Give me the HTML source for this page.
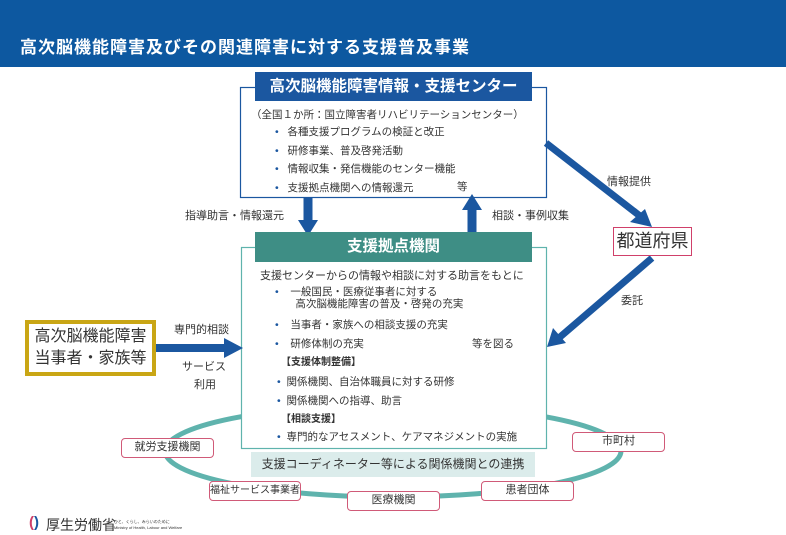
<!DOCTYPE html>
<html><head><meta charset="utf-8"><style>
body{margin:0;width:786px;height:535px;position:relative;background:#fff;overflow:hidden;font-family:"Liberation Sans","Noto Sans CJK JP",sans-serif;color:#333}
.a{position:absolute;white-space:nowrap}
.t{font-size:10.5px}
.pk{position:absolute;border:1.5px solid #d05a78;border-radius:4px;background:#fff;font-size:11px;text-align:center;box-sizing:border-box;white-space:nowrap;overflow:hidden}
</style></head><body>
<div class="a" style="left:0;top:0;width:786px;height:67px;background:#0d58a0"></div>
<div class="a" style="left:20px;top:33px;font-size:17px;font-weight:bold;color:#fff;letter-spacing:1px">高次脳機能障害及びその関連障害に対する支援普及事業</div>
<svg class="a" style="left:0;top:0" width="786" height="535">
<ellipse cx="393" cy="451" rx="228" ry="46" fill="none" stroke="#5fb3ad" stroke-width="5"/>
<rect x="240.5" y="87.5" width="306" height="110" fill="#fff" stroke="#1b57a0" stroke-width="1.2"/>
<rect x="241.5" y="247.5" width="305" height="201" fill="#fff" stroke="#5fb3ad" stroke-width="1.2"/>
<g fill="#1b57a0" stroke="#1b57a0">
<line x1="308" y1="197" x2="308" y2="222" stroke-width="9"/><polygon points="298,220 318,220 308,236" stroke="none"/>
<line x1="472" y1="234" x2="472" y2="208" stroke-width="9"/><polygon points="462,210 482,210 472,194" stroke="none"/>
<line x1="546" y1="143" x2="640" y2="216" stroke-width="7"/><polygon points="630,222 645,209 652,227" stroke="none"/>
<line x1="652" y1="258" x2="560" y2="337" stroke-width="7"/><polygon points="553,328 566,343 547,347" stroke="none"/>
<line x1="156" y1="348" x2="228" y2="348" stroke-width="8"/><polygon points="224,338 224,358 243,348" stroke="none"/>
</g>
</svg>
<div class="a" style="left:255px;top:72px;width:277px;height:29px;background:#1b57a0;color:#fff;font-weight:bold;font-size:15.5px;text-align:center;line-height:29px">高次脳機能障害情報・支援センター</div>
<div class="a t" style="left:251px;top:107px">（全国１か所：国立障害者リハビリテーションセンター）</div>
<div class="a t" style="left:275px;top:123px;line-height:18.7px"><span style="color:#1b57a0">•</span>&nbsp;&nbsp;&nbsp;各種支援プログラムの検証と改正<br><span style="color:#1b57a0">•</span>&nbsp;&nbsp;&nbsp;研修事業、普及啓発活動<br><span style="color:#1b57a0">•</span>&nbsp;&nbsp;&nbsp;情報収集・発信機能のセンター機能<br><span style="color:#1b57a0">•</span>&nbsp;&nbsp;&nbsp;支援拠点機関への情報還元</div>
<div class="a t" style="left:457px;top:179px">等</div>
<div class="a" style="left:185px;top:207px;font-size:11px">指導助言・情報還元</div>
<div class="a" style="left:492px;top:207px;font-size:11px">相談・事例収集</div>
<div class="a" style="left:255px;top:232px;width:277px;height:30px;background:#3e8e85;color:#fff;font-weight:bold;font-size:15.5px;text-align:center;line-height:30px">支援拠点機関</div>
<div class="a" style="left:260px;top:267px;font-size:11px">支援センターからの情報や相談に対する助言をもとに</div>
<div class="a t" style="left:275px;top:286px;line-height:12px"><span style="color:#1b57a0">•</span>&nbsp;&nbsp;&nbsp;&nbsp;一般国民・医療従事者に対する<br>&nbsp;&nbsp;&nbsp;&nbsp;&nbsp;&nbsp;&nbsp;高次脳機能障害の普及・啓発の充実</div>
<div class="a t" style="left:275px;top:317px"><span style="color:#1b57a0">•</span>&nbsp;&nbsp;&nbsp;&nbsp;当事者・家族への相談支援の充実</div>
<div class="a t" style="left:275px;top:336px"><span style="color:#1b57a0">•</span>&nbsp;&nbsp;&nbsp;&nbsp;研修体制の充実</div>
<div class="a t" style="left:472px;top:336px">等を図る</div>
<div class="a" style="left:281px;top:353px;font-size:10px;font-weight:bold">【支援体制整備】</div>
<div class="a t" style="left:277px;top:373px;line-height:19px"><span style="color:#1b57a0">•</span>&nbsp;&nbsp;関係機関、自治体職員に対する研修<br><span style="color:#1b57a0">•</span>&nbsp;&nbsp;関係機関への指導、助言</div>
<div class="a" style="left:281px;top:410px;font-size:10px;font-weight:bold">【相談支援】</div>
<div class="a t" style="left:277px;top:429px"><span style="color:#1b57a0">•</span>&nbsp;&nbsp;専門的なアセスメント、ケアマネジメントの実施</div>
<div class="a" style="left:251px;top:452px;width:284px;height:25px;background:#dbeceb;font-size:12px;text-align:center;line-height:25px">支援コーディネーター等による関係機関との連携</div>
<div class="pk" style="left:121px;top:438px;width:93px;height:20px;line-height:17px">就労支援機関</div>
<div class="pk" style="left:209px;top:481px;width:92px;height:20px;line-height:17px;font-size:10px">福祉サービス事業者</div>
<div class="pk" style="left:347px;top:491px;width:93px;height:20px;line-height:17px">医療機関</div>
<div class="pk" style="left:481px;top:481px;width:93px;height:20px;line-height:17px">患者団体</div>
<div class="pk" style="left:572px;top:432px;width:93px;height:20px;line-height:17px">市町村</div>
<div class="a" style="left:613px;top:227px;width:79px;height:29px;border:1.5px solid #d0406a;box-sizing:border-box;font-size:18px;text-align:center;line-height:26px">都道府県</div>
<div class="a" style="left:607px;top:173px;font-size:11px">情報提供</div>
<div class="a" style="left:621px;top:292px;font-size:11px">委託</div>
<div class="a" style="left:25px;top:320px;width:131px;height:56px;border:4px solid #c9a615;box-sizing:border-box;font-size:16px;line-height:22px;text-align:center;padding-top:2px">高次脳機能障害<br>当事者・家族等</div>
<div class="a" style="left:174px;top:321px;font-size:11px">専門的相談</div>
<div class="a" style="left:182px;top:358px;font-size:11px">サービス</div>
<div class="a" style="left:194px;top:376px;font-size:11px">利用</div>
<div class="a" style="left:29px;top:514px;font-size:15px;font-weight:bold"><span style="color:#d0406a">(</span><span style="color:#1b57a0">)</span></div>
<div class="a" style="left:46px;top:515px;font-size:14px;color:#333">厚生労働省</div>
<div class="a" style="left:114px;top:519px;font-size:4px;line-height:6px;color:#333">ひと、くらし、みらいのために<br>Ministry of Health, Labour and Welfare</div>
</body></html>
